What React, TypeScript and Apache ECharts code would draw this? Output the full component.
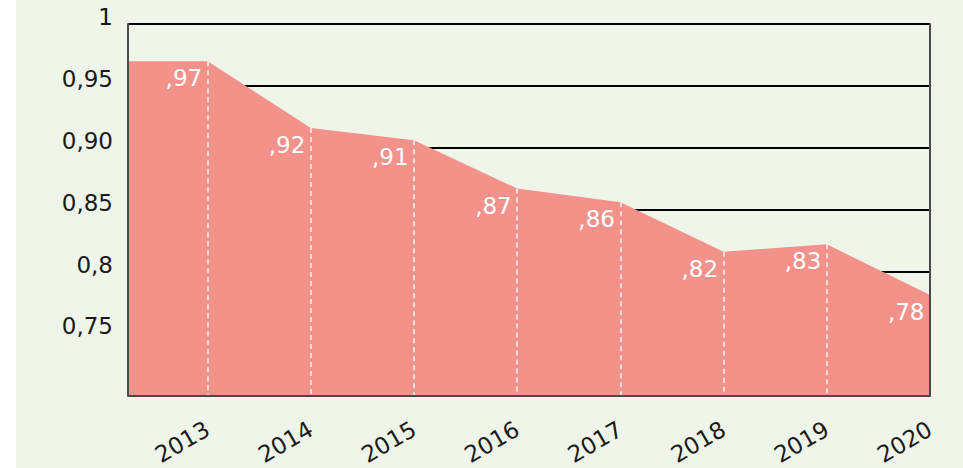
import React, { useEffect, useRef } from "react";
import * as echarts from "echarts";

const years = ["2013", "2014", "2015", "2016", "2017", "2018", "2019", "2020"];
const values = [0.97, 0.916, 0.906, 0.867, 0.856, 0.816, 0.822, 0.781];
const valueLabels = [",97", ",92", ",91", ",87", ",86", ",82", ",83", ",78"];
const startValue = 0.97;
const yTickValues = [1, 0.95, 0.9, 0.85, 0.8, 0.75];
const yTickLabels = ["1", "0,95", "0,90", "0,85", "0,8", "0,75"];

const X_MIN = 0.228;
const FONT = "'DejaVu Sans', sans-serif";
const FS = 23;

export default function App() {
  const ref = useRef<HTMLDivElement>(null);
  useEffect(() => {
    if (!ref.current) return;
    const chart = echarts.init(ref.current, null, { renderer: "svg" });
    const positions = years.map((_, i) => i + 1);
    const seriesData: any[] = [
      { value: [X_MIN, startValue], label: { show: false } },
      ...values.map((v, i) => ({ value: [positions[i], v] })),
    ];
    const dropLines = values.slice(0, values.length - 1).map((v, i) => [
      { coord: [positions[i], v] },
      { coord: [positions[i], 0.7] },
    ]);
    const frameAxis = (position: string) => ({
      type: "value",
      min: 0.7,
      max: 1,
      interval: 0.05,
      position,
      z: 5,
      axisLine: { show: true, lineStyle: { color: "#4a4a4a", width: 2 } },
      axisTick: { show: false },
      splitLine: { show: false },
      axisLabel: { show: false },
    });
    chart.setOption({
      animation: false,
      backgroundColor: "#ffffff",
      graphic: [
        {
          type: "rect",
          z: -10,
          silent: true,
          shape: { x: 16, y: 0, width: 947, height: 468 },
          style: { fill: "#eff5e9" },
        },
      ],
      grid: { left: 128, right: 33, top: 24, bottom: 72, containLabel: false },
      xAxis: {
        type: "value",
        min: X_MIN,
        max: 8,
        z: 5,
        splitLine: { show: false },
        axisLine: { show: true, onZero: false, lineStyle: { color: "#4a4a4a", width: 2 } },
        axisTick: { show: false },
        axisLabel: {
          customValues: positions,
          formatter: (v: number) => years[Math.round(v) - 1] ?? "",
          rotate: 30,
          margin: 32,
          fontSize: FS,
          fontFamily: FONT,
          color: "#1a1a1a",
        },
      },
      yAxis: [
        {
          type: "value",
          min: 0.7,
          max: 1,
          interval: 0.05,
          axisLine: { show: false },
          axisTick: { show: false },
          splitLine: { show: true, lineStyle: { color: "#000000", width: 2 } },
          axisLabel: {
            margin: 15,
            fontSize: FS,
            fontFamily: FONT,
            color: "#1a1a1a",
            verticalAlign: "bottom",
            lineHeight: 14,
            formatter: (v: number) => {
              const idx = yTickValues.findIndex((t) => Math.abs(t - v) < 1e-6);
              return idx >= 0 ? yTickLabels[idx] : "";
            },
          },
        },
        frameAxis("left"),
        frameAxis("right"),
      ],
      series: [
        {
          type: "line",
          data: seriesData,
          symbol: "circle",
          symbolSize: 1,
          showSymbol: true,
          itemStyle: { color: "rgba(0,0,0,0)" },
          lineStyle: { width: 0 },
          areaStyle: { color: "#f2928a", opacity: 1, origin: "start" },
          label: {
            show: true,
            position: "left",
            distance: 5,
            offset: [0, 17],
            color: "#ffffff",
            fontSize: FS,
            fontFamily: FONT,
            formatter: (p: any) => valueLabels[p.dataIndex - 1] ?? "",
          },
          markLine: {
            silent: true,
            symbol: "none",
            label: { show: false },
            lineStyle: { color: "#ffffff", type: [5, 4], width: 1.5, opacity: 0.9 },
            data: dropLines,
          },
        },
      ],
    });
    return () => chart.dispose();
  }, []);
  return (
    <div
      ref={ref}
      style={{ position: "absolute", left: 0, top: 0, width: 963, height: 468 }}
    />
  );
}
